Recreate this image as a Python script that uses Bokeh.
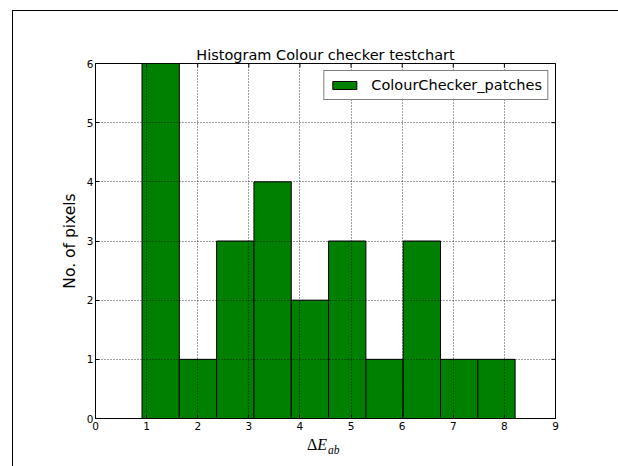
import math
from bokeh.plotting import figure
from bokeh.layouts import column
from bokeh.models import (FixedTicker, Range1d, Div, Legend, LegendItem, ColumnDataSource)
from bokeh.embed import file_html
from bokeh.resources import INLINE

# ---- data ----
bin_edges = [0.91, 1.64, 2.37, 3.10, 3.83, 4.56, 5.29, 6.02, 6.75, 7.48, 8.21]
counts = [6, 1, 3, 4, 2, 3, 1, 3, 1, 1]
x_ticks = [0, 1, 2, 3, 4, 5, 6, 7, 8, 9]
y_ticks = [0, 1, 2, 3, 4, 5, 6]
title_text = "Histogram Colour checker testchart"
y_label = "No. of pixels"
series_name = "ColourChecker_patches"

src = ColumnDataSource(dict(left=bin_edges[:-1], right=bin_edges[1:],
                            top=counts, bottom=[0] * len(counts)))

p = figure(width=618, height=436, output_backend="svg", toolbar_location=None,
           x_range=Range1d(0, 9), y_range=Range1d(0, 6),
           frame_width=460, frame_height=355,
           min_border_left=95, min_border_top=63, min_border_right=63, min_border_bottom=18)
p.background_fill_color = "white"
p.border_fill_color = "white"
p.outline_line_color = "black"
p.outline_line_width = 1

p.title.text = title_text
p.title.align = "center"
p.title.text_font = "DejaVu Sans"
p.title.text_font_size = "14.5px"
p.title.text_font_style = "normal"
p.title.text_color = "black"
p.title.standoff = 2

r = p.quad(left="left", right="right", top="top", bottom="bottom", source=src,
           fill_color="#008000", line_color="black", line_width=1)

for ax in (p.xaxis[0], p.yaxis[0]):
    ax.major_tick_in = 4
    ax.major_tick_out = 0
    ax.minor_tick_line_color = None
    ax.axis_line_color = "black"
    ax.major_label_text_font = "DejaVu Sans"
    ax.major_label_text_font_size = "10.5px"
    ax.major_label_text_color = "black"
p.xaxis.ticker = FixedTicker(ticks=x_ticks)
p.yaxis.ticker = FixedTicker(ticks=y_ticks)
p.xaxis.major_label_standoff = 3
p.yaxis.major_label_standoff = 2
p.yaxis.axis_label = y_label
p.yaxis.axis_label_text_font = "DejaVu Sans"
p.yaxis.axis_label_text_font_size = "15.5px"
p.yaxis.axis_label_text_font_style = "normal"
p.yaxis.axis_label_text_color = "black"
p.yaxis.axis_label_standoff = 5

# mirrored inward ticks on top and right (drawn as short rays)
p.ray(x=x_ticks, y=[y_ticks[-1]] * len(x_ticks), length=4, length_units="screen",
      angle=-math.pi / 2, line_color="black", line_width=1)
p.ray(x=[x_ticks[-1]] * len(y_ticks), y=y_ticks, length=4, length_units="screen",
      angle=math.pi, line_color="black", line_width=1)

for g in (p.xgrid[0], p.ygrid[0]):
    g.grid_line_color = "black"
    g.grid_line_dash = "1 2"
    g.grid_line_width = 1
    g.grid_line_alpha = 0.75
    g.level = "guide"
p.xgrid.ticker = FixedTicker(ticks=x_ticks)
p.ygrid.ticker = FixedTicker(ticks=y_ticks)

legend = Legend(items=[LegendItem(label=series_name, renderers=[r])], location="top_right")
legend.margin = 7
legend.padding = 5
legend.spacing = 0
legend.glyph_width = 30
legend.glyph_height = 10
legend.label_height = 18
legend.label_standoff = 12
legend.label_text_font = "DejaVu Sans"
legend.label_text_font_size = "14.5px"
legend.label_text_color = "black"
legend.border_line_color = "black"
legend.border_line_width = 1
legend.background_fill_color = "white"
legend.background_fill_alpha = 1
p.add_layout(legend, "center")

# x-axis label (Delta E_ab) and the outer figure frame
xlabel_html = (
    '<div style="position:relative;width:618px;height:30px;">'
    '<div style="position:absolute;left:307px;top:1px;font-family:\'Liberation Serif\';'
    'font-size:16px;line-height:16px;white-space:nowrap;color:black;">'
    'Δ<i>E</i><span style="font-style:italic;font-size:11.5px;position:relative;top:4px;left:1px;">ab</span>'
    '</div>'
    '<div style="position:absolute;left:12px;top:-426px;width:1.3px;height:460px;background:black;"></div>'
    '<div style="position:absolute;left:12px;top:-426px;width:700px;height:1.3px;background:black;"></div>'
    '</div>'
)
d = Div(text=xlabel_html, width=618, height=30, margin=0)

layout = column(p, d, spacing=0, margin=0)
open("out.html", "w").write(file_html(layout, INLINE))
